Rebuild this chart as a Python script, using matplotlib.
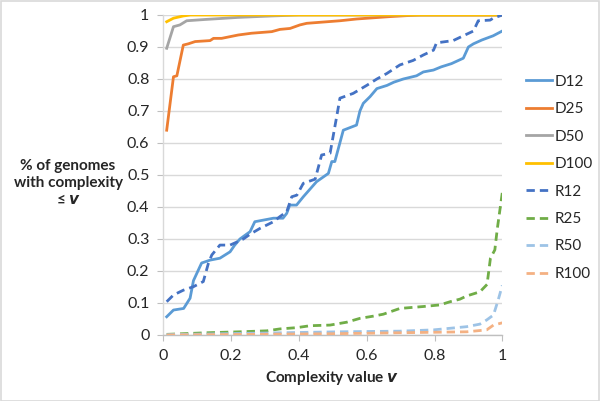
import matplotlib
matplotlib.use("Agg")
import matplotlib.pyplot as plt
from matplotlib.patches import Rectangle
from matplotlib.ticker import FuncFormatter

plt.rcParams['font.family'] = ['Lato', 'DejaVu Sans']

series_names = ["D12", "D25", "D50", "D100", "R12", "R25", "R50", "R100"]

D12_x = [0.01, 0.03, 0.06, 0.079, 0.089, 0.113, 0.138, 0.167, 0.197, 0.21, 0.226, 0.256, 0.27,
         0.325, 0.353, 0.364, 0.373, 0.393, 0.413, 0.452, 0.487, 0.497, 0.506, 0.531, 0.57, 0.58,
         0.59, 0.61, 0.63, 0.66, 0.68, 0.708, 0.747, 0.767, 0.797, 0.82, 0.85, 0.885, 0.90, 0.915,
         0.94, 0.973, 1.0]
D12_y = [0.057, 0.078, 0.083, 0.115, 0.17, 0.225, 0.234, 0.24, 0.26, 0.28, 0.30, 0.323, 0.354,
         0.365, 0.365, 0.38, 0.406, 0.406, 0.432, 0.479, 0.505, 0.542, 0.542, 0.64, 0.656, 0.70,
         0.724, 0.745, 0.77, 0.78, 0.79, 0.80, 0.81, 0.822, 0.828, 0.838, 0.848, 0.865, 0.90, 0.91,
         0.922, 0.935, 0.95]

D25_x = [0.01, 0.03, 0.04, 0.059, 0.074, 0.094, 0.138, 0.148, 0.172, 0.221, 0.26, 0.32, 0.344,
         0.374, 0.403, 0.423, 0.521, 0.57, 0.669, 0.718, 0.76, 1.0]
D25_y = [0.64, 0.807, 0.81, 0.906, 0.91, 0.917, 0.92, 0.927, 0.927, 0.9375, 0.943, 0.948, 0.955,
         0.958, 0.969, 0.974, 0.982, 0.9875, 0.995, 0.998, 1.0, 1.0]

D50_x = [0.01, 0.03, 0.049, 0.069, 0.123, 0.221, 0.32, 0.40, 1.0]
D50_y = [0.896, 0.9635, 0.969, 0.982, 0.986, 0.9925, 0.997, 1.0, 1.0]

D100_x = [0.01, 0.03, 0.059, 0.08, 1.0]
D100_y = [0.979, 0.99, 0.997, 1.0, 1.0]

R12_x = [0.01, 0.03, 0.059, 0.089, 0.118, 0.133, 0.143, 0.167, 0.197, 0.216, 0.236, 0.256, 0.285,
         0.325, 0.344, 0.364, 0.379, 0.394, 0.413, 0.448, 0.467, 0.492, 0.511, 0.521, 0.56, 0.60,
         0.63, 0.659, 0.698, 0.737, 0.767, 0.797, 0.806, 0.855, 0.895, 0.915, 0.929, 0.964, 0.973,
         1.0]
R12_y = [0.104, 0.125, 0.14, 0.151, 0.167, 0.224, 0.25, 0.281, 0.281, 0.29, 0.30, 0.315, 0.333,
         0.354, 0.37, 0.385, 0.432, 0.437, 0.474, 0.487, 0.5625, 0.568, 0.68, 0.74, 0.755, 0.78,
         0.80, 0.817, 0.844, 0.858, 0.875, 0.89, 0.913, 0.92, 0.94, 0.95, 0.982, 0.984, 0.99,
         1.0]

R25_x = [0.01, 0.128, 0.226, 0.305, 0.344, 0.394, 0.433, 0.492, 0.541, 0.58, 0.62, 0.649, 0.698,
         0.767, 0.816, 0.846, 0.875, 0.895, 0.934, 0.955, 0.965, 0.978, 0.985, 1.0]
R25_y = [0.002, 0.007, 0.01, 0.013, 0.019, 0.023, 0.029, 0.031, 0.04, 0.052, 0.059, 0.065, 0.083,
         0.089, 0.094, 0.104, 0.112, 0.122, 0.135, 0.158, 0.24, 0.266, 0.33, 0.445]

R50_x = [0.01, 0.52, 0.698, 0.797, 0.895, 0.934, 0.954, 0.974, 0.988, 1.0]
R50_y = [0.001, 0.01, 0.012, 0.016, 0.026, 0.034, 0.047, 0.0625, 0.11, 0.155]

R100_x = [0.01, 0.5, 0.895, 0.954, 0.974, 1.0]
R100_y = [0.0, 0.004, 0.01, 0.016, 0.031, 0.038]

xs = [D12_x, D25_x, D50_x, D100_x, R12_x, R25_x, R50_x, R100_x]
ys = [D12_y, D25_y, D50_y, D100_y, R12_y, R25_y, R50_y, R100_y]
colors = ["#5B9BD5", "#ED7D31", "#A5A5A5", "#FFC000", "#4472C4", "#70AD47", "#9DC3E6", "#F4B183"]
dashed = [False, False, False, False, True, True, True, True]

x_ticks = [0, 0.2, 0.4, 0.6, 0.8, 1]
y_ticks = [0, 0.1, 0.2, 0.3, 0.4, 0.5, 0.6, 0.7, 0.8, 0.9, 1]

fig = plt.figure(figsize=(6.0, 4.01), dpi=100)
ax = fig.add_axes([163.3 / 600, (401 - 335) / 401, 339 / 600, 320 / 401])

handles = []
for name, x, y, c, d in zip(series_names, xs, ys, colors, dashed):
    if d:
        h, = ax.plot(x, y, color=c, lw=2.0, label=name, dashes=(3, 1.8), zorder=3)
    else:
        h, = ax.plot(x, y, color=c, lw=2.0, label=name, zorder=3)
    handles.append(h)

ax.set_xlim(0, 1)
ax.set_ylim(0, 1)
ax.set_xticks(x_ticks)
ax.set_yticks(y_ticks)
fmt = FuncFormatter(lambda v, p: "%g" % v)
ax.xaxis.set_major_formatter(fmt)
ax.yaxis.set_major_formatter(fmt)
ax.tick_params(axis='both', labelsize=11.5, color="#BFBFBF", length=4, width=0.8,
               labelcolor="#262626")
ax.tick_params(axis='x', pad=6)
ax.tick_params(axis='y', pad=6)
ax.grid(axis='y', color="#D9D9D9", lw=1.0, zorder=0)
for s in ['top', 'right']:
    ax.spines[s].set_visible(False)
ax.spines['left'].set_color("#D9D9D9")
ax.spines['bottom'].set_color("#BFBFBF")
ax.spines['left'].set_linewidth(1.0)
ax.spines['bottom'].set_linewidth(1.0)

fig.text(68 / 600, 1 - 183 / 401, "% of genomes\nwith complexity\n≤ $\\boldsymbol{v}$",
         ha='center', va='center', fontsize=11, fontweight='bold', color="#262626",
         linespacing=1.25)
fig.text(332 / 600, 1 - 378 / 401, "Complexity value $\\boldsymbol{v}$",
         ha='center', va='center', fontsize=11, fontweight='bold', color="#262626")

leg = fig.legend(handles=handles, loc='upper left', bbox_to_anchor=(512 / 600, 1 - 61 / 401),
                 frameon=False, fontsize=11, handlelength=1.75, handletextpad=0.15,
                 labelspacing=0.88, labelcolor="#262626", borderpad=0.4)

fig.add_artist(Rectangle((0.001, 0.001), 0.997, 0.997, transform=fig.transFigure,
                         fill=False, edgecolor="#D9D9D9", lw=1.2))

fig.savefig("out.png", dpi=100)
